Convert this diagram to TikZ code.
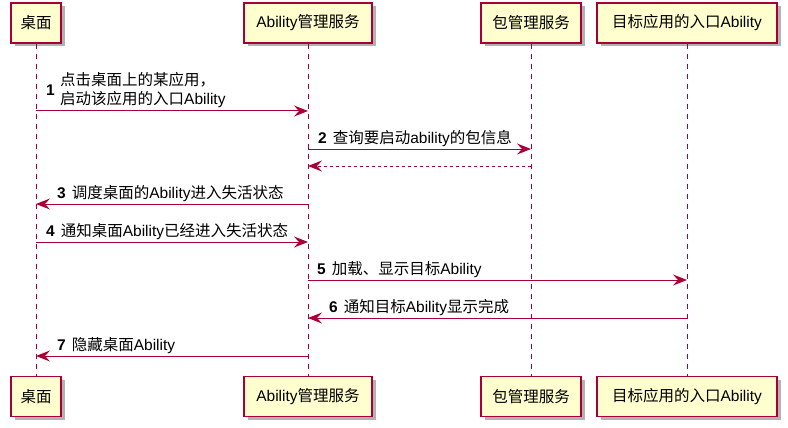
\documentclass[tikz,border=0pt]{standalone}
\usepackage{fontspec}
\setmainfont{Liberation Sans}
\newfontfamily\cjk{Noto Sans CJK SC}
\usetikzlibrary{arrows.meta,shadows}
\definecolor{pred}{HTML}{A80036}
\definecolor{pfill}{HTML}{FEFECE}
\newcommand\C[1]{{\cjk #1}}
\begin{document}
\begin{tikzpicture}[x=1pt,y=-1pt,
 part/.style={draw=pred, line width=1.3pt, fill=pfill, minimum height=40pt, inner sep=0pt,
   font=\fontsize{15.5}{18}\selectfont,
   drop shadow={shadow xshift=3.5pt,shadow yshift=-3.5pt,fill=black,opacity=0.3}},
 life/.style={draw=pred, line width=0.9pt, dash pattern=on 5pt off 5pt},
 msg/.style={draw=pred, line width=1pt, -{Stealth[length=14pt,width=11pt,inset=5pt]}},
 ret/.style={msg, dash pattern=on 3pt off 3pt},
 txt/.style={anchor=base west, inner sep=0pt, font=\fontsize{15.5}{18}\selectfont}]
\path[fill=white] (0,0) rectangle (788,428);
\useasboundingbox (0,0) rectangle (788,428);
% participants
\node[part, minimum width=50pt] (dt) at (36,23) {\C{桌面}};
\node[part, minimum width=128pt] (at) at (308,23) {Ability\C{管理服务}};
\node[part, minimum width=100pt] (pt) at (531,23) {\C{包管理服务}};
\node[part, minimum width=180pt] (tt) at (687,23) {\C{目标应用的入口}Ability};
\node[part, minimum width=50pt] (db) at (36,396.5) {\C{桌面}};
\node[part, minimum width=128pt] (ab) at (308,396.5) {Ability\C{管理服务}};
\node[part, minimum width=100pt] (pb) at (531,396.5) {\C{包管理服务}};
\node[part, minimum width=180pt] (tb) at (687,396.5) {\C{目标应用的入口}Ability};
% lifelines
\draw[life] (dt) -- (db);
\draw[life] (at) -- (ab);
\draw[life] (pt) -- (pb);
\draw[life] (tt) -- (tb);
% message end points
\coordinate (m1a) at (36,111);  \coordinate (m1b) at (308,111);
\coordinate (m2a) at (308,149); \coordinate (m2b) at (531,149);
\coordinate (r2a) at (531,166); \coordinate (r2b) at (308,166);
\coordinate (m3a) at (308,204); \coordinate (m3b) at (36,204);
\coordinate (m4a) at (36,242);  \coordinate (m4b) at (308,242);
\coordinate (m5a) at (308,280); \coordinate (m5b) at (687,280);
\coordinate (m6a) at (687,318); \coordinate (m6b) at (308,318);
\coordinate (m7a) at (308,356); \coordinate (m7b) at (36,356);
% messages
\draw[msg] (m1a) -- (m1b);
\node[txt, font=\bfseries\fontsize{15.5}{18}\selectfont] (n1) at (46,95.5) {1};
\node[txt] (t1a) at (60,85.5) {\C{点击桌面上的某应用，}};
\node[txt] (t1b) at (60,104.5) {\C{启动该应用的入口}Ability};
\draw[msg] (m2a) -- (m2b);
\node[txt] (t2) at (318,143.5) {\textbf{2}\hspace{6pt}\C{查询要启动}ability\C{的包信息}};
\draw[ret] (r2a) -- (r2b);
\draw[msg] (m3a) -- (m3b);
\node[txt] (t3) at (57,198.5) {\textbf{3}\hspace{6pt}\C{调度桌面的}Ability\C{进入失活状态}};
\draw[msg] (m4a) -- (m4b);
\node[txt] (t4) at (46,236.5) {\textbf{4}\hspace{6pt}\C{通知桌面}Ability\C{已经进入失活状态}};
\draw[msg] (m5a) -- (m5b);
\node[txt] (t5) at (317,274.5) {\textbf{5}\hspace{6pt}\C{加载、显示目标}Ability};
\draw[msg] (m6a) -- (m6b);
\node[txt] (t6) at (329,312.5) {\textbf{6}\hspace{6pt}\C{通知目标}Ability\C{显示完成}};
\draw[msg] (m7a) -- (m7b);
\node[txt] (t7) at (57,350.5) {\textbf{7}\hspace{6pt}\C{隐藏桌面}Ability};
\end{tikzpicture}
\end{document}
